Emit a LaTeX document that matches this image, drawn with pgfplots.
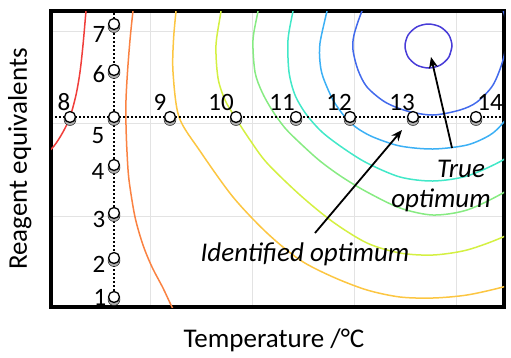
\documentclass[border=0pt]{standalone}
\usepackage{pgfplots}
\pgfplotsset{compat=1.18}
\usepackage{fontspec}
\setmainfont{Carlito}
\usetikzlibrary{arrows.meta}
\definecolor{cRed}{RGB}{240,62,58}
\definecolor{cCoral}{RGB}{250,130,66}
\definecolor{cGold}{RGB}{252,198,66}
\definecolor{cYG}{RGB}{212,240,66}
\definecolor{cGreen}{RGB}{135,235,130}
\definecolor{cTeal}{RGB}{66,232,200}
\definecolor{cSky}{RGB}{60,176,245}
\definecolor{cBlue}{RGB}{66,106,236}
\definecolor{cIndigo}{RGB}{72,60,216}
\definecolor{cShadow}{RGB}{175,175,175}
\tikzset{num/.style={anchor=base, font=\fontsize{25}{30}\selectfont}}
\begin{document}
\begin{tikzpicture}
\useasboundingbox (0,0) rectangle (511pt,357pt);
\begin{axis}[
  at={(51pt,50pt)}, anchor=south west,
  width=453pt, height=296pt, scale only axis,
  xmin=51, xmax=504, ymin=11, ymax=307, y dir=reverse,
  xtick={150,252,354,456}, ytick={31,123.5,216},
  xticklabels={}, yticklabels={},
  major tick length=0pt,
  grid=major, grid style={black!11, line width=0.9pt},
  axis line style={line width=3.5pt, line join=miter, black},
  clip=true,
]
% contours
\addplot[smooth, cRed, line width=1.5pt] coordinates {(88,-10)(86,11)(83,45)(80,72)(76,95)(70,117)(63,132)(54,146)(42,158)};
\addplot[smooth, cCoral, line width=1.5pt] coordinates {(136,-10)(133,11)(130,40)(127.5,72)(126,100)(126,125)(127,152)(129,180)(135,217)(143,245)(152,267)(163,288)(172,307)(182,325)};
\addplot[smooth, cGold, line width=1.5pt] coordinates {(178,-10)(176,11)(173.5,40)(173,72)(179,117)(200,151)(233,197)(267,233)(300,260)(333,277)(367,290)(400,297)(433,298)(467,295)(503,287)(530,278)};
\addplot[smooth, cYG, line width=1.5pt] coordinates {(223,-10)(221,11)(216,45)(218,78)(225,100)(235,117)(250,140)(267,163)(300,195)(333,222)(367,243)(400,253)(433,255)(467,250)(503,237)(530,222)};
\addplot[smooth, cGreen, line width=1.5pt] coordinates {(261,-10)(258,11)(253,40)(255,72)(262,92)(272,110)(285,128)(300,143)(320,161)(342,177)(367,192)(400,208)(433,215)(467,210)(503,193)(530,175)};
\addplot[smooth, cTeal, line width=1.5pt] coordinates {(297,-10)(293,11)(288,40)(289,72)(295,95)(306,114)(322,132)(343,148)(367,163)(400,177)(433,181)(467,176)(503,160)(530,140)};
\addplot[smooth, cSky, line width=1.5pt] coordinates {(332,-10)(327,11)(320,43)(320,62)(323,77)(333,100)(345,117)(357,128)(373,137)(400,146)(433,149)(467,145)(490,135)(503,123)(520,100)};
\addplot[smooth, cBlue, line width=1.5pt] coordinates {(375,-15)(362,11)(354,35)(353,50)(358,70)(367,87)(385,102)(407,111)(433,115)(460,110)(477,102)(493,85)(503,60)(507,35)(503,10)(490,-10)};
\addplot[smooth, cIndigo, line width=1.5pt] coordinates {(452,46)(448.9,57)(440.3,65.1)(428.5,68)(416.8,65.1)(408.1,57)(405,46)(408.1,35)(416.8,26.9)(428.5,24)(440.3,26.9)(448.9,35)(452,46)(448.9,57)};
% dotted design lines
\addplot[black, line width=2pt, dash pattern=on 2pt off 2pt] coordinates {(51,117)(504,117)};
\addplot[black, line width=2pt, dash pattern=on 2pt off 2pt] coordinates {(114,13)(114,307)};
% shadows of points
\addplot[only marks, mark=*, mark size=6pt, mark options={draw=none, fill=cShadow, yshift=-2.5pt}] coordinates {(70,117)(170,117)(236,117)(296,117)(350,117)(413,117)(476,117)(114,117)(114,24)(114,70)(114,165)(114,213)(114,258)(114,297)};
% design points
\addplot[only marks, mark=*, mark size=5.5pt, mark options={draw=black, fill=white, line width=1.3pt}] coordinates {(70,117)(170,117)(236,117)(296,117)(350,117)(413,117)(476,117)(114,117)(114,24)(114,70)(114,165)(114,213)(114,258)(114,297)};
% labels
\node[num] at (axis cs:64,110) {8};
\node[num] at (axis cs:160,110) {9};
\node[num] at (axis cs:221,110) {10};
\node[num] at (axis cs:282,110) {11};
\node[num] at (axis cs:339,110) {12};
\node[num] at (axis cs:402,110) {13};
\node[num] at (axis cs:490,110) {14};
\node[num] at (axis cs:99,42) {7};
\node[num] at (axis cs:99,82) {6};
\node[num] at (axis cs:98,143) {5};
\node[num] at (axis cs:98,179) {4};
\node[num] at (axis cs:99,227) {3};
\node[num] at (axis cs:99,272) {2};
\node[num] at (axis cs:100,305) {1};
% annotations
\draw[line width=1.8pt, -{Stealth[length=11pt,width=9pt]}] (axis cs:315,233) -- (axis cs:402,130);
\draw[line width=1.8pt, -{Stealth[length=11pt,width=9pt]}] (axis cs:452,148) -- (axis cs:431,57);
\node[anchor=base, font=\fontsize{27}{32}\selectfont\itshape] at (axis cs:305,261) {Identified optimum};
\node[anchor=base, font=\fontsize{27}{32}\selectfont\itshape] at (axis cs:461,177) {True};
\node[anchor=base, font=\fontsize{27}{32}\selectfont\itshape] at (axis cs:441,207) {optimum};
\end{axis}
\node[anchor=base, font=\fontsize{27}{32}\selectfont] at (274pt,10pt) {Temperature /°C};
\node[rotate=90, anchor=base, font=\fontsize{27}{32}\selectfont] at (27pt,198pt) {Reagent equivalents};
\end{tikzpicture}
\end{document}
